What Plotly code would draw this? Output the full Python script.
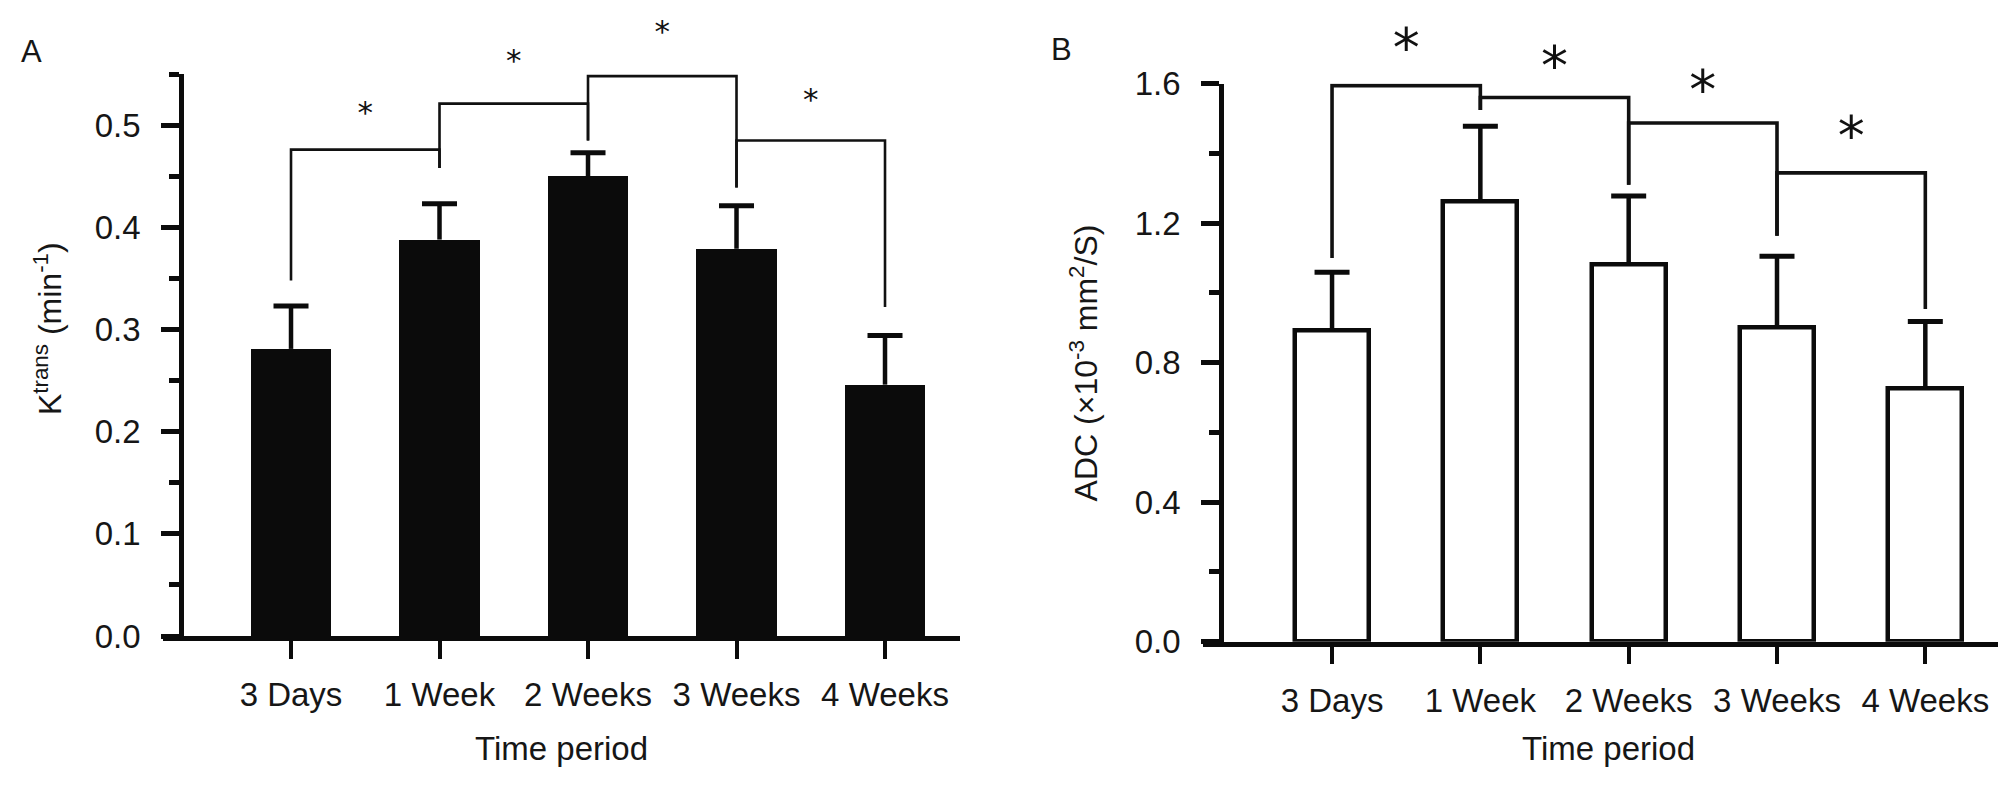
import plotly.graph_objects as go

# ---------------- data ----------------
categories = ["3 Days", "1 Week", "2 Weeks", "3 Weeks", "4 Weeks"]

ktrans_mean = [0.281, 0.388, 0.450, 0.379, 0.246]
ktrans_sd = [0.042, 0.035, 0.023, 0.042, 0.048]

adc_mean = [0.893, 1.263, 1.082, 0.902, 0.725]
adc_sd = [0.166, 0.215, 0.196, 0.203, 0.193]

# significance brackets between neighbouring groups
bracket_pairs = [(0, 1), (1, 2), (2, 3), (3, 4)]
ktrans_bracket_y = [0.476, 0.521, 0.548, 0.485]
ktrans_left_foot = [0.348, 0.458, 0.485, 0.439]
ktrans_right_foot = [0.458, 0.485, 0.439, 0.322]
ktrans_star_y = [0.498, 0.549, 0.578, 0.511]

adc_bracket_y = [1.594, 1.560, 1.487, 1.344]
adc_left_foot = [1.100, 1.524, 1.310, 1.164]
adc_right_foot = [1.524, 1.310, 1.164, 0.954]
adc_star_y = [1.667, 1.617, 1.546, 1.414]

ktrans_ticks = [0.0, 0.1, 0.2, 0.3, 0.4, 0.5]
ktrans_minor = [0.05, 0.15, 0.25, 0.35, 0.45, 0.55]
adc_ticks = [0.0, 0.4, 0.8, 1.2, 1.6]
adc_minor = [0.2, 0.6, 1.0, 1.4]

# ---------------- layout helpers ----------------
W, H = 2008, 790
FONT = "Liberation Sans, Arial, sans-serif"
TXT = "#161616"
INK = "#0b0b0b"


def fx(p):
    return p / W


def fy(p):
    return 1 - p / H


xi = list(range(len(categories)))

# pixel geometry of the two panels
A_ZERO, A_TOP, A_MAX = 640.0, 50.4, 0.55
B_ZERO, B_TOP, B_MAX = 646.0, 60.4, 1.6
A_SCALE = (A_ZERO - A_TOP) / A_MAX
B_SCALE = (B_ZERO - B_TOP) / B_MAX
STAR_LIFT_A = 12   # px: glyph of "*" sits low in its text box
STAR_LIFT_B = 8


def bracket_path(pairs, ys, lf, rf):
    xs, yy = [], []
    for (a, b), y, l, r in zip(pairs, ys, lf, rf):
        xs += [a, a, b, b, None]
        yy += [l, y, y, r, None]
    return xs, yy


def whisker_path(means, sds):
    xs, yy = [], []
    for i, (m, s) in enumerate(zip(means, sds)):
        xs += [i, i, None]
        yy += [m, m + s, None]
    return xs, yy


fig = go.Figure()


def add_panel(means, sds, xa, ya, bar_kw, pairs, by_, lf, rf, br_w):
    fig.add_trace(go.Bar(x=xi, y=means, xaxis=xa, yaxis=ya, showlegend=False,
                         hoverinfo="skip", **bar_kw))
    wx, wy = whisker_path(means, sds)
    fig.add_trace(go.Scatter(x=wx, y=wy, mode="lines", line=dict(color=INK, width=4.5),
                             xaxis=xa, yaxis=ya, showlegend=False, hoverinfo="skip"))
    fig.add_trace(go.Scatter(x=xi, y=[m + s for m, s in zip(means, sds)], mode="markers",
                             marker=dict(symbol="line-ew", size=25,
                                         line=dict(color=INK, width=5)),
                             xaxis=xa, yaxis=ya, showlegend=False, hoverinfo="skip"))
    bx, byy = bracket_path(pairs, by_, lf, rf)
    fig.add_trace(go.Scatter(x=bx, y=byy, mode="lines", line=dict(color="#111", width=br_w),
                             xaxis=xa, yaxis=ya, showlegend=False, cliponaxis=False,
                             hoverinfo="skip"))


add_panel(ktrans_mean, ktrans_sd, "x", "y",
          dict(width=0.54, marker=dict(color=INK, line=dict(width=0))),
          bracket_pairs, ktrans_bracket_y, ktrans_left_foot, ktrans_right_foot, 2.6)
add_panel(adc_mean, adc_sd, "x2", "y2",
          dict(width=0.5, marker=dict(color="white", line=dict(color=INK, width=4.5))),
          bracket_pairs, adc_bracket_y, adc_left_foot, adc_right_foot, 3.6)

# significance stars (on hidden axes with the same scale that reach the top of the page)
STAR_A = 31
STAR_B = 54
fig.add_trace(go.Scatter(
    x=[(a + b) / 2 for a, b in bracket_pairs], y=ktrans_star_y, mode="text",
    text=["*"] * len(ktrans_star_y), textposition="middle center",
    textfont=dict(family="DejaVu Sans", size=STAR_A, color="#111"),
    xaxis="x", yaxis="y3", showlegend=False, hoverinfo="skip", cliponaxis=False))
fig.add_trace(go.Scatter(
    x=[(a + b) / 2 for a, b in bracket_pairs], y=adc_star_y, mode="text",
    text=["*"] * len(adc_star_y), textposition="middle center",
    textfont=dict(family="DejaVu Sans", size=STAR_B, color="#111"),
    xaxis="x2", yaxis="y4", showlegend=False, hoverinfo="skip", cliponaxis=False))

annotations = []
# panel letters
annotations.append(dict(x=fx(23), y=fy(27), xref="paper", yref="paper", text="A",
                        showarrow=False, xanchor="center", yanchor="middle",
                        font=dict(family=FONT, size=31, color=TXT)))
annotations.append(dict(x=fx(1053), y=fy(25), xref="paper", yref="paper", text="B",
                        showarrow=False, xanchor="center", yanchor="middle",
                        font=dict(family=FONT, size=31, color=TXT)))

# axis titles
annotations.append(dict(x=fx(40), y=fy(318), xref="paper", yref="paper",
                        text="K<sup>trans</sup> (min<sup>-1</sup>)", textangle=-90,
                        showarrow=False, xanchor="center", yanchor="middle",
                        font=dict(family=FONT, size=32, color=TXT)))
annotations.append(dict(x=fx(1076), y=fy(354), xref="paper", yref="paper",
                        text="ADC (×10<sup>-3</sup> mm<sup>2</sup>/S)", textangle=-90,
                        showarrow=False, xanchor="center", yanchor="middle",
                        font=dict(family=FONT, size=32, color=TXT)))
annotations.append(dict(x=fx(553), y=fy(758), xref="paper", yref="paper",
                        text="Time period", showarrow=False, xanchor="center",
                        yanchor="middle", font=dict(family=FONT, size=33, color=TXT)))
annotations.append(dict(x=fx(1600), y=fy(758), xref="paper", yref="paper",
                        text="Time period", showarrow=False, xanchor="center",
                        yanchor="middle", font=dict(family=FONT, size=33, color=TXT)))

xaxis_common = dict(
    tickvals=xi, ticktext=categories, showline=True, linecolor=INK, linewidth=4.5,
    ticks="outside", ticklen=18, tickwidth=4, tickcolor=INK,
    tickfont=dict(family=FONT, size=33, color=TXT), showgrid=False, zeroline=False,
    ticklabelstandoff=8, fixedrange=True)

yaxis_common = dict(
    showline=True, linecolor=INK, linewidth=4.5, ticks="outside", ticklen=18,
    tickwidth=4.5, tickcolor=INK, tickformat=".1f",
    tickfont=dict(family=FONT, size=33, color=TXT), showgrid=False, zeroline=False,
    ticklabelstandoff=14, anchor="free", fixedrange=True)

star_axis = dict(visible=False, anchor="free", fixedrange=True, showgrid=False,
                 zeroline=False)

fig.update_layout(
    width=W, height=H,
    margin=dict(l=0, r=0, t=0, b=0),
    paper_bgcolor="white", plot_bgcolor="rgba(0,0,0,0)",
    showlegend=False, bargap=0,
    xaxis=dict(xaxis_common, domain=[fx(155), fx(952)], range=[-0.862, 4.505], anchor="y"),
    yaxis=dict(yaxis_common, domain=[fy(A_ZERO), fy(A_TOP)], range=[0, A_MAX],
               tickvals=ktrans_ticks, position=fx(173),
               minor=dict(tickvals=ktrans_minor, ticks="outside",
                          ticklen=10, tickwidth=4.5, tickcolor=INK)),
    xaxis2=dict(xaxis_common, domain=[fx(1195), fx(1990)], range=[-0.87, 4.49], anchor="y2"),
    yaxis2=dict(yaxis_common, domain=[fy(B_ZERO), fy(B_TOP)], range=[0, B_MAX],
                tickvals=adc_ticks, position=fx(1213),
                minor=dict(tickvals=adc_minor, ticks="outside",
                           ticklen=10, tickwidth=4.5, tickcolor=INK)),
    yaxis3=dict(star_axis, domain=[fy(A_ZERO - STAR_LIFT_A), 1],
                range=[0, (A_ZERO - STAR_LIFT_A) / A_SCALE], position=fx(173)),
    yaxis4=dict(star_axis, domain=[fy(B_ZERO - STAR_LIFT_B), 1],
                range=[0, (B_ZERO - STAR_LIFT_B) / B_SCALE], position=fx(1213)),
    annotations=annotations,
)

fig.write_html("out.html")
